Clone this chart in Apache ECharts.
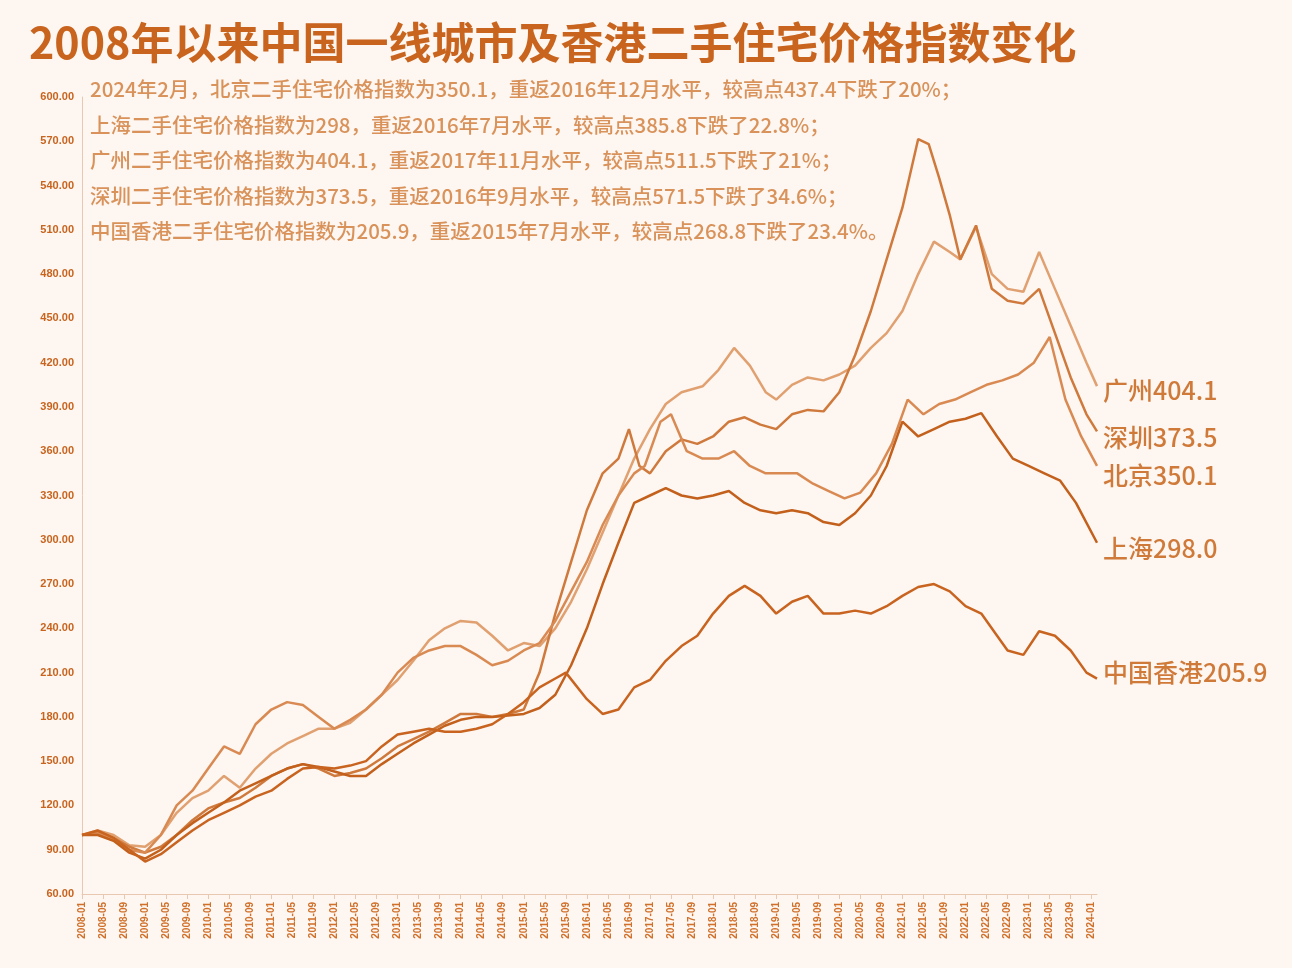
<!DOCTYPE html>
<html><head><meta charset="utf-8">
<script src="https://cdn.jsdelivr.net/npm/echarts@6/dist/echarts.min.js"></script>
<style>html,body{margin:0;background:#fdf6f1}#c{width:1292px;height:968px}</style>
</head><body><div id="c"></div>
<script>
const title = '2008年以来中国一线城市及香港二手住宅价格指数变化';
const notes = [
 '2024年2月，北京二手住宅价格指数为350.1，重返2016年12月水平，较高点437.4下跌了20%；',
 '上海二手住宅价格指数为298，重返2016年7月水平，较高点385.8下跌了22.8%；',
 '广州二手住宅价格指数为404.1，重返2017年11月水平，较高点511.5下跌了21%；',
 '深圳二手住宅价格指数为373.5，重返2016年9月水平，较高点571.5下跌了34.6%；',
 '中国香港二手住宅价格指数为205.9，重返2015年7月水平，较高点268.8下跌了23.4%。'
];
const seriesNames = ['广州','深圳','北京','上海','中国香港'];
const endValues = ['404.1','373.5','350.1','298.0','205.9'];
// [month, value]
const guangzhou = [['2008-01',100],['2008-04',103],['2008-07',100],['2008-10',93],['2009-01',92],['2009-04',100],['2009-07',115],['2009-10',125],['2010-01',130],['2010-04',140],['2010-07',132],['2010-10',145],['2011-01',155],['2011-04',162],['2011-07',167],['2011-10',172],['2012-01',172],['2012-04',176],['2012-07',185],['2012-10',195],['2013-01',205],['2013-04',218],['2013-07',232],['2013-10',240],['2014-01',245],['2014-04',244],['2014-07',235],['2014-10',225],['2015-01',230],['2015-04',228],['2015-07',240],['2015-10',258],['2016-01',280],['2016-04',305],['2016-07',330],['2016-10',355],['2017-01',375],['2017-04',392],['2017-07',400],['2017-11',404],['2018-02',415],['2018-05',430],['2018-08',418],['2018-11',400],['2019-01',395],['2019-04',405],['2019-07',410],['2019-10',408],['2020-01',412],['2020-04',418],['2020-07',430],['2020-10',440],['2021-01',455],['2021-04',480],['2021-07',502],['2021-10',495],['2021-12',490],['2022-03',512],['2022-06',480],['2022-09',470],['2022-12',468],['2023-03',495],['2023-06',470],['2023-09',445],['2023-12',420],['2024-02',404.1]];
const shenzhen = [['2008-01',100],['2008-04',102],['2008-07',98],['2008-10',92],['2009-01',88],['2009-04',92],['2009-07',100],['2009-10',110],['2010-01',118],['2010-04',122],['2010-07',125],['2010-10',132],['2011-01',140],['2011-04',145],['2011-07',148],['2011-10',145],['2012-01',140],['2012-04',142],['2012-07',145],['2012-10',152],['2013-01',160],['2013-04',165],['2013-07',170],['2013-10',176],['2014-01',182],['2014-04',182],['2014-07',180],['2014-10',182],['2015-01',185],['2015-04',210],['2015-07',250],['2015-10',285],['2016-01',320],['2016-04',345],['2016-07',355],['2016-09',375],['2016-11',350],['2017-01',345],['2017-04',360],['2017-07',368],['2017-10',365],['2018-01',370],['2018-04',380],['2018-07',383],['2018-10',378],['2019-01',375],['2019-04',385],['2019-07',388],['2019-10',387],['2020-01',400],['2020-04',425],['2020-07',455],['2020-10',490],['2021-01',525],['2021-04',571.5],['2021-06',568],['2021-08',545],['2021-10',520],['2021-12',490],['2022-03',513],['2022-06',470],['2022-09',462],['2022-12',460],['2023-03',470],['2023-06',440],['2023-09',410],['2023-12',385],['2024-02',373.5]];
const beijing = [['2008-01',100],['2008-04',101],['2008-07',97],['2008-10',90],['2009-01',88],['2009-04',100],['2009-07',120],['2009-10',130],['2010-01',145],['2010-04',160],['2010-07',155],['2010-10',175],['2011-01',185],['2011-04',190],['2011-07',188],['2011-10',180],['2012-01',172],['2012-04',178],['2012-07',185],['2012-10',195],['2013-01',210],['2013-04',220],['2013-07',225],['2013-10',228],['2014-01',228],['2014-04',222],['2014-07',215],['2014-10',218],['2015-01',225],['2015-04',230],['2015-07',245],['2015-10',265],['2016-01',285],['2016-04',310],['2016-07',330],['2016-10',345],['2016-12',350],['2017-03',380],['2017-05',385],['2017-08',360],['2017-11',355],['2018-02',355],['2018-05',360],['2018-08',350],['2018-11',345],['2019-02',345],['2019-05',345],['2019-08',338],['2019-11',333],['2020-02',328],['2020-05',332],['2020-08',345],['2020-11',365],['2021-02',395],['2021-05',385],['2021-08',392],['2021-11',395],['2022-02',400],['2022-05',405],['2022-08',408],['2022-11',412],['2023-02',420],['2023-05',437.4],['2023-08',395],['2023-11',370],['2024-02',350.1]];
const shanghai = [['2008-01',100],['2008-04',100],['2008-07',96],['2008-10',88],['2009-01',84],['2009-04',90],['2009-07',100],['2009-10',108],['2010-01',115],['2010-04',122],['2010-07',130],['2010-10',135],['2011-01',140],['2011-04',145],['2011-07',148],['2011-10',146],['2012-01',143],['2012-04',140],['2012-07',140],['2012-10',148],['2013-01',155],['2013-04',162],['2013-07',168],['2013-10',174],['2014-01',178],['2014-04',180],['2014-07',180],['2014-10',181],['2015-01',182],['2015-04',186],['2015-07',195],['2015-10',215],['2016-01',240],['2016-04',270],['2016-07',298],['2016-10',325],['2017-01',330],['2017-04',335],['2017-07',330],['2017-10',328],['2018-01',330],['2018-04',333],['2018-07',325],['2018-10',320],['2019-01',318],['2019-04',320],['2019-07',318],['2019-10',312],['2020-01',310],['2020-04',318],['2020-07',330],['2020-10',350],['2021-01',380],['2021-04',370],['2021-07',375],['2021-10',380],['2022-01',382],['2022-04',385.8],['2022-07',370],['2022-10',355],['2023-01',350],['2023-04',345],['2023-07',340],['2023-10',325],['2024-02',298]];
const hongkong = [['2008-01',100],['2008-04',103],['2008-07',98],['2008-10',90],['2009-01',82],['2009-04',87],['2009-07',95],['2009-10',103],['2010-01',110],['2010-04',115],['2010-07',120],['2010-10',126],['2011-01',130],['2011-04',138],['2011-07',145],['2011-10',146],['2012-01',145],['2012-04',147],['2012-07',150],['2012-10',160],['2013-01',168],['2013-04',170],['2013-07',172],['2013-10',170],['2014-01',170],['2014-04',172],['2014-07',175],['2014-10',182],['2015-01',190],['2015-04',200],['2015-07',206],['2015-09',210],['2016-01',192],['2016-04',182],['2016-07',185],['2016-10',200],['2017-01',205],['2017-04',218],['2017-07',228],['2017-10',235],['2018-01',250],['2018-04',262],['2018-07',268.8],['2018-10',262],['2019-01',250],['2019-04',258],['2019-07',262],['2019-10',250],['2020-01',250],['2020-04',252],['2020-07',250],['2020-10',255],['2021-01',262],['2021-04',268],['2021-07',270],['2021-10',265],['2022-01',255],['2022-04',250],['2022-07',235],['2022-09',225],['2022-12',222],['2023-03',238],['2023-06',235],['2023-09',225],['2023-12',210],['2024-02',205.9]];
const yTicks = {min:60, max:600, interval:30};

const months = [];
for (let y = 2008; y <= 2024; y++) for (let m = 1; m <= 12; m++) {
  if (y === 2024 && m > 2) break;
  months.push(y + '-' + String(m).padStart(2,'0'));
}
const colors = ['#e0a070','#cf7a3c','#d98a52','#c2601c','#c8641f'];
const allData = [guangzhou, shenzhen, beijing, shanghai, hongkong];
const labelOffsets = [[-2,4],[-2,6],[-2,10],[-2,6],[-2,-6]];
const chart = echarts.init(document.getElementById('c'));
chart.setOption({
  backgroundColor:'#fdf6f1',
  animation:false,
  title:{text:title,left:24,top:16,textStyle:{fontSize:43,fontWeight:'bold',color:'#c8641e',fontFamily:'Noto Sans CJK SC'}},
  graphic: notes.map((t,i)=>({type:'text',left:90,top:79+i*35.5,style:{text:t,fontSize:20.5,fontWeight:500,fill:'#d9925a',fontFamily:'Noto Sans CJK SC'}})),
  grid:{left:82,right:195,top:97,bottom:74},
  xAxis:{type:'category',data:months,boundaryGap:false,
    axisLine:{lineStyle:{color:'#e8c8b0'}},
    axisTick:{interval:3,lineStyle:{color:'#e8c8b0'}},
    axisLabel:{interval:3,rotate:90,fontSize:10,fontWeight:'bold',color:'#d0702a'},
    splitLine:{show:false}},
  yAxis:{type:'value',min:yTicks.min,max:yTicks.max,interval:yTicks.interval,
    axisLine:{show:true,lineStyle:{color:'#e8c8b0'}},axisTick:{show:false},
    axisLabel:{formatter:v=>v.toFixed(2),fontSize:11,fontWeight:'bold',color:'#c8641e'},
    splitLine:{show:false}},
  series: allData.map((d,i)=>({
    name:seriesNames[i],type:'line',data:d,showSymbol:false,
    lineStyle:{width:2.5,color:colors[i]},itemStyle:{color:colors[i]},
    endLabel:{show:true,formatter:seriesNames[i]+endValues[i],fontSize:25,fontWeight:500,color:'#d07a3a',
      fontFamily:'Noto Sans CJK SC',offset:labelOffsets[i]}
  }))
});
</script></body></html>
